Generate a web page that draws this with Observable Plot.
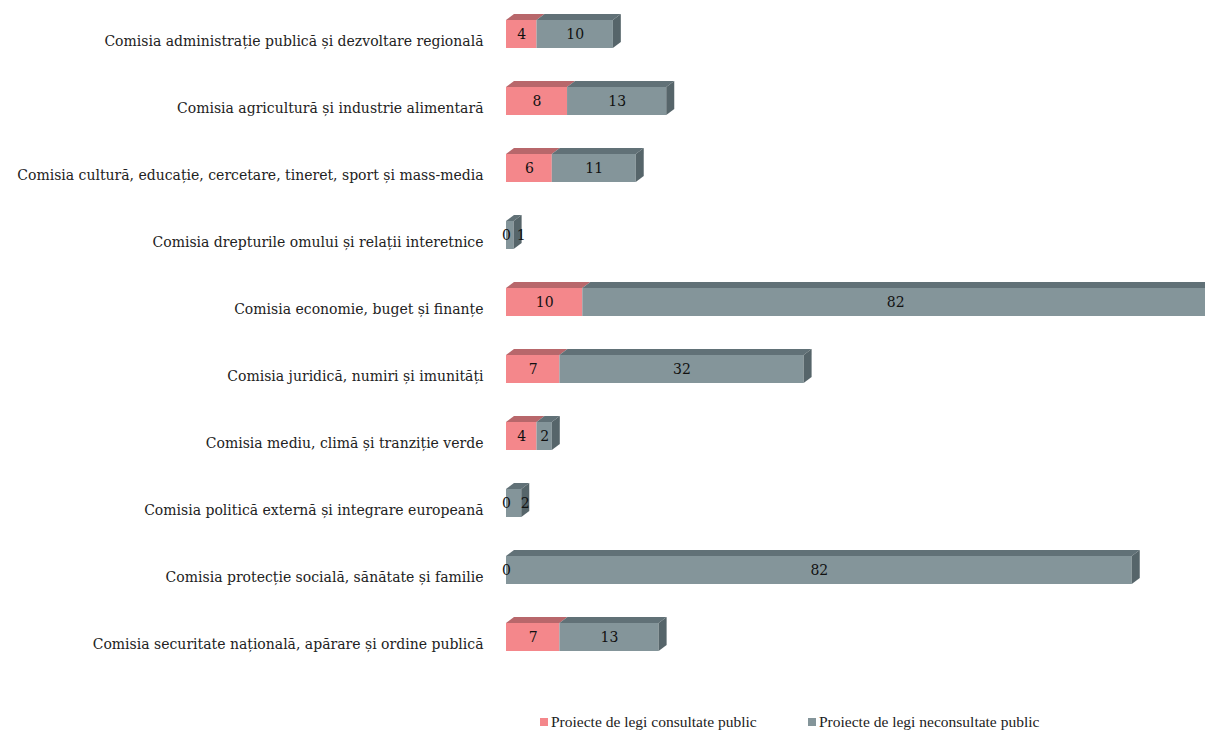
<!DOCTYPE html>
<html>
<head>
<meta charset="utf-8">
<script src="https://cdn.jsdelivr.net/npm/d3@7"></script>
<script src="https://cdn.jsdelivr.net/npm/@observablehq/plot@0.6"></script>
<style>
  html, body { margin: 0; padding: 0; background: #fff; }
  #chart { width: 1205px; height: 671px; }
  #legend { position: relative; height: 64px; font-family: "Liberation Serif", serif; font-size: 15.5px; color: #222; }
  .item { position: absolute; top: 42px; display: flex; align-items: center; white-space: nowrap; }
  .sw { width: 8px; height: 8px; margin-right: 3px; }
</style>
</head>
<body>
<div id="chart"></div>
<div id="legend"></div>
<script>
const categories = [
  "Comisia administrație publică și dezvoltare regională",
  "Comisia agricultură și industrie alimentară",
  "Comisia cultură, educație, cercetare, tineret, sport și mass-media",
  "Comisia drepturile omului și relații interetnice",
  "Comisia economie, buget și finanțe",
  "Comisia juridică, numiri și imunități",
  "Comisia mediu, climă și tranziție verde",
  "Comisia politică externă și integrare europeană",
  "Comisia protecție socială, sănătate și familie",
  "Comisia securitate națională, apărare și ordine publică"
];
const consultate = [4, 8, 6, 0, 10, 7, 4, 0, 0, 7];
const neconsultate = [10, 13, 11, 1, 82, 32, 2, 2, 82, 13];
const series = ["Proiecte de legi consultate public", "Proiecte de legi neconsultate public"];
const frontColors = ["#F4878B", "#84959A"];
const topColors = ["#B8676B", "#617177"];
const sideColor = "#56656A";

const data = categories.flatMap((c, i) => [
  {c, s: series[0], v: consultate[i], prev: null},
  {c, s: series[1], v: neconsultate[i], prev: consultate[i]}
]);

const font = "DejaVu Serif";

const plot = Plot.plot({
  width: 1205,
  height: 671,
  marginLeft: 506,
  marginRight: 0,
  marginTop: 0,
  marginBottom: 0,
  style: {fontFamily: font, fontSize: "14px", color: "#222", background: "transparent"},
  x: {domain: [0, 91.6], axis: null},
  y: {domain: categories, paddingInner: 0.583, paddingOuter: 0.28, label: null, axis: null},
  color: {domain: series, range: frontColors},
  marks: [
    Plot.axisY({tickSize: 0, tickPadding: 23, dy: 7, fontSize: 14, label: null}),
    Plot.barX(data, Plot.stackX({y: "c", x: "v", fill: "s", z: "s"})),
    Plot.text(data, Plot.stackX({y: "c", x: "v", z: "s", text: d => String(d.v), fill: "#111", fontSize: 14,
      filter: d => !(d.prev === 0 && d.v < 5)})),
    Plot.text(data, Plot.stackX({y: "c", x: "v", z: "s", text: d => String(d.v), fill: "#111", fontSize: 14, dx: 11,
      filter: d => d.prev === 0 && d.v < 5}))
  ]
});
document.getElementById("chart").appendChild(plot);

// 3D faces drawn through the plot's own scales
const sx = plot.scale("x"), sy = plot.scale("y");
const X = sx.apply ? (v => sx.apply(v)) : d3.scaleLinear(sx.domain, sx.range);
const Yb = d3.scaleBand(sy.domain, sy.range).paddingInner(sy.paddingInner).paddingOuter(sy.paddingOuter).align(sy.align ?? 0.5);
const bw = sy.bandwidth ?? Yb.bandwidth();
const Y = v => (sy.apply ? sy.apply(v) : Yb(v));
const ddx = 8, ddy = 6;
const svg = d3.select(plot.tagName.toLowerCase() === "svg" ? plot : plot.querySelector("svg"));
const faces = svg.insert("g", 'g[aria-label="text"]');
categories.forEach((c, i) => {
  const vals = [consultate[i], neconsultate[i]];
  const yt = Y(c), yb = yt + bw;
  let acc = 0, lastEnd = null;
  vals.forEach((v, k) => {
    const x1 = X(acc), x2 = X(acc + v);
    acc += v;
    if (v <= 0) return;
    faces.append("path")
      .attr("d", `M${x1},${yt}L${x2},${yt}L${x2 + ddx},${yt - ddy}L${x1 + ddx},${yt - ddy}Z`)
      .attr("fill", topColors[k]);
    lastEnd = x2;
  });
  if (lastEnd !== null) {
    faces.append("path")
      .attr("d", `M${lastEnd},${yt}L${lastEnd + ddx},${yt - ddy}L${lastEnd + ddx},${yb - ddy}L${lastEnd},${yb}Z`)
      .attr("fill", sideColor);
  }
});

// legend
const legend = document.getElementById("legend");
const lx = [540, 808];
series.forEach((s, k) => {
  const it = document.createElement("div");
  it.className = "item";
  it.style.left = lx[k] + "px";
  it.innerHTML = `<span class="sw" style="background:${frontColors[k]}"></span><span>${s}</span>`;
  legend.appendChild(it);
});
</script>
</body>
</html>
